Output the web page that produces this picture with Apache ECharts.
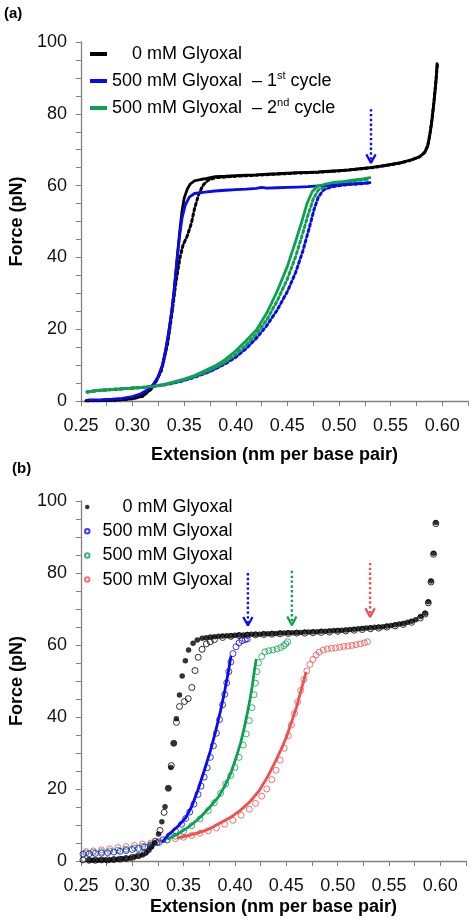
<!DOCTYPE html>
<html>
<head>
<meta charset="utf-8">
<script src="https://cdn.jsdelivr.net/npm/echarts@6/dist/echarts.min.js"></script>
<style>html,body{margin:0;padding:0;background:#fff}#c{width:472px;height:923px}</style>
</head>
<body>
<div id="c"></div>
<script>
// ---------- Panel (a) data : [extension nm/bp, force pN] ----------
const aBlackStretch = [[0.255,0.1],[0.265,0.1],[0.275,0.2],[0.285,0.3],[0.295,0.5],[0.303,0.9],[0.310,1.6],[0.315,2.6],[0.320,4.2],[0.325,6.8],[0.329,10],[0.332,14],[0.335,19],[0.338,25],[0.340,30],[0.342,36],[0.344,42],[0.346,48],[0.348,53],[0.350,56.5],[0.353,59],[0.356,60.5],[0.360,61.3],[0.366,61.7],[0.372,62.0],[0.380,62.5],[0.390,62.6],[0.400,62.8],[0.410,62.9],[0.420,63.0],[0.430,63.2],[0.440,63.3],[0.450,63.5],[0.460,63.6],[0.470,63.7],[0.480,63.8],[0.490,64.0],[0.500,64.2],[0.510,64.4],[0.520,64.7],[0.530,65.0],[0.540,65.4],[0.550,65.9],[0.560,66.4],[0.570,67.2],[0.578,68.0],[0.583,69.2],[0.586,71],[0.588,74],[0.590,78],[0.592,83],[0.594,89],[0.595,94]];
const aBlackRelax = [[0.255,0.0],[0.270,0.1],[0.285,0.2],[0.300,0.6],[0.310,1.3],[0.320,3.8],[0.328,8.5],[0.334,16],[0.338,24],[0.342,33],[0.346,40],[0.349,43.5],[0.353,46],[0.357,49.5],[0.360,53.5],[0.364,57.5],[0.368,60.0],[0.373,61.5],[0.380,62.2],[0.390,62.4],[0.400,62.6],[0.420,62.9],[0.440,63.2],[0.460,63.5],[0.480,63.7],[0.500,64.1],[0.520,64.6],[0.540,65.3],[0.560,66.3],[0.570,67.1],[0.578,68.0],[0.583,69.3],[0.586,71.2],[0.588,74.2],[0.590,78.3],[0.592,83.5],[0.594,89.5],[0.5955,94]];
const aBlueStretch = [[0.257,0.3],[0.270,0.4],[0.280,0.5],[0.290,0.7],[0.300,1.2],[0.308,2.0],[0.315,3.2],[0.320,4.6],[0.325,6.8],[0.329,10],[0.332,14],[0.335,19],[0.338,25],[0.340,30],[0.342,36],[0.344,42],[0.346,47],[0.348,51],[0.351,54.5],[0.355,56.8],[0.360,57.8],[0.370,58.2],[0.380,58.5],[0.390,58.7],[0.400,58.9],[0.410,59.0],[0.420,59.2],[0.425,59.5],[0.430,59.3],[0.440,59.4],[0.450,59.5],[0.460,59.6],[0.470,59.7],[0.480,59.9],[0.490,60.1],[0.500,60.2],[0.510,60.4],[0.520,60.6],[0.530,60.8]];
const aBlueRelax = [[0.256,2.5],[0.270,3.0],[0.285,3.3],[0.300,3.6],[0.315,3.9],[0.330,4.4],[0.345,5.3],[0.360,6.6],[0.375,8.2],[0.390,10.4],[0.400,12.2],[0.410,14.6],[0.420,17.5],[0.430,21.0],[0.440,25.3],[0.450,30.5],[0.458,35.8],[0.465,41.8],[0.471,48.0],[0.476,53.5],[0.480,56.8],[0.485,58.8],[0.492,59.6],[0.500,60.0],[0.510,60.3],[0.520,60.5],[0.530,60.8]];
const aGreenStretch = [[0.256,2.5],[0.262,2.8],[0.270,3.0],[0.280,3.2],[0.290,3.4],[0.300,3.6],[0.310,3.8],[0.320,4.1],[0.330,4.6],[0.340,5.3],[0.350,6.1],[0.360,7.1],[0.370,8.4],[0.380,9.8],[0.390,11.6],[0.400,14.0],[0.410,16.8],[0.420,19.8],[0.430,24.5],[0.440,30.5],[0.450,37.5],[0.458,44.5],[0.464,50],[0.469,55],[0.474,58.3],[0.479,59.8],[0.487,60.4],[0.495,60.9],[0.505,61.2],[0.515,61.6],[0.523,61.9],[0.530,62.2]];
const aGreenRelax = [[0.256,2.6],[0.270,3.0],[0.285,3.3],[0.300,3.6],[0.315,3.9],[0.330,4.5],[0.345,5.5],[0.360,6.8],[0.375,8.6],[0.390,10.9],[0.400,13.0],[0.410,15.6],[0.420,18.6],[0.430,22.6],[0.440,27.8],[0.450,34.0],[0.458,40.2],[0.465,46.8],[0.470,51.8],[0.475,56.2],[0.480,58.8],[0.488,59.9],[0.496,60.5],[0.505,60.9],[0.515,61.3],[0.523,61.6],[0.530,61.9]];
const aArrow = {x: 0.531, top: 81.3, tip: 66.3};

// ---------- Panel (b) data ----------
const b0Filled = [[0.258,0.2],[0.262,0.2],[0.266,0.2],[0.270,0.3],[0.274,0.3],[0.278,0.3],[0.282,0.4],[0.286,0.5],[0.290,0.6],[0.294,0.7],[0.298,0.8],[0.302,1.1],[0.306,1.4],[0.310,1.7],[0.3135,2.3],[0.3162,3.0],[0.3190,4.0],[0.3219,5.1],[0.3256,7.5],[0.3288,10.9],[0.3319,15.1],[0.3351,20.2],[0.3376,26.0],[0.3404,32.7],[0.3429,39.5],[0.3460,46.1],[0.3486,51.4],[0.3517,55.6],[0.3548,58.6],[0.3592,60.5],[0.3633,61.4],[0.3680,61.9],[0.372,62.0],[0.376,62.2],[0.380,62.3],[0.384,62.4],[0.388,62.5],[0.392,62.6],[0.396,62.6],[0.400,62.7],[0.404,62.8],[0.408,62.8],[0.412,62.9],[0.416,63.0],[0.420,63.0],[0.424,63.0],[0.428,63.1],[0.432,63.1],[0.436,63.2],[0.440,63.2],[0.444,63.3],[0.448,63.3],[0.452,63.4],[0.456,63.4],[0.460,63.5],[0.464,63.5],[0.468,63.6],[0.472,63.6],[0.476,63.7],[0.480,63.7],[0.484,63.8],[0.488,63.8],[0.492,63.9],[0.496,64.0],[0.500,64.0],[0.504,64.1],[0.508,64.2],[0.512,64.3],[0.516,64.4],[0.520,64.5],[0.524,64.6],[0.528,64.7],[0.532,64.8],[0.536,64.9],[0.540,65.0],[0.544,65.1],[0.548,65.3],[0.552,65.4],[0.556,65.6],[0.560,65.8],[0.564,66.0],[0.568,66.3],[0.572,66.6],[0.576,67.0],[0.5808,67.9],[0.5852,68.8],[0.5883,72.0],[0.5909,77.8],[0.5934,85.5],[0.5956,94.0]];
const b0Open = [[0.252,0.3],[0.258,0.2],[0.264,0.2],[0.270,0.3],[0.276,0.3],[0.282,0.4],[0.288,0.5],[0.294,0.7],[0.300,1.0],[0.306,1.5],[0.312,2.3],[0.318,4.0],[0.3225,5.5],[0.327,8.5],[0.331,13.5],[0.3351,20.2],[0.338,26.5],[0.3404,32.7],[0.343,38.5],[0.346,42.9],[0.3508,44.3],[0.3545,45.1],[0.358,48.2],[0.3611,52.9],[0.3642,56.6],[0.368,58.8],[0.3721,60.3],[0.3759,60.9],[0.380,61.5],[0.388,62.1],[0.396,62.4],[0.404,62.6],[0.412,62.7],[0.420,62.8],[0.428,62.9],[0.436,63.0],[0.444,63.1],[0.452,63.2],[0.460,63.3],[0.468,63.3],[0.476,63.4],[0.484,63.5],[0.492,63.6],[0.500,63.8],[0.508,63.9],[0.516,64.1],[0.524,64.3],[0.532,64.5],[0.540,64.7],[0.548,65.0],[0.556,65.3],[0.564,65.7],[0.572,66.3],[0.5805,67.5],[0.5852,68.6],[0.5883,71.7],[0.5909,77.5],[0.5934,85.2],[0.5956,93.7]];
const bBlueOpen = [[0.252,1.9],[0.258,2.0],[0.264,2.1],[0.270,2.2],[0.276,2.3],[0.282,2.5],[0.288,2.7],[0.294,2.9],[0.300,3.2],[0.306,3.5],[0.312,3.9],[0.318,4.4],[0.324,5.1],[0.330,5.9],[0.336,7.0],[0.342,8.4],[0.348,10.2],[0.352,11.8],[0.356,13.6],[0.360,15.8],[0.364,18.5],[0.367,20.8],[0.370,23.3],[0.373,25.9],[0.376,28.8],[0.379,32.0],[0.382,35.5],[0.385,39.3],[0.388,43.4],[0.390,46.3],[0.392,49.5],[0.394,52.6],[0.396,55.3],[0.398,57.6],[0.401,59.5],[0.404,60.6],[0.407,61.2],[0.410,61.5],[0.412,61.7]];
const bBlueFit = [[0.330,5.6],[0.335,7.2],[0.345,9.8],[0.352,12.0],[0.358,15.2],[0.364,19.8],[0.370,25.0],[0.376,30.5],[0.381,35.8],[0.386,41.8],[0.390,47.2],[0.3935,52.4],[0.3960,56.7]];
const bGreenOpen = [[0.255,2.2],[0.262,2.4],[0.270,2.6],[0.278,2.8],[0.286,3.0],[0.294,3.3],[0.302,3.6],[0.310,4.0],[0.318,4.5],[0.326,5.1],[0.334,5.9],[0.342,6.9],[0.350,8.2],[0.358,9.8],[0.366,11.7],[0.374,14.0],[0.380,16.2],[0.386,18.8],[0.391,21.4],[0.396,23.8],[0.400,26.0],[0.404,28.8],[0.408,32.2],[0.411,35.3],[0.414,39.0],[0.4165,42.6],[0.4185,46.2],[0.4200,49.4],[0.4214,52.6],[0.423,55.1],[0.426,56.8],[0.4292,58.1],[0.433,58.4],[0.437,58.6],[0.441,58.9],[0.4445,59.3],[0.4475,59.8],[0.4495,60.3],[0.4512,60.9]];
const bGreenFit = [[0.335,6.2],[0.345,7.6],[0.355,9.5],[0.365,11.8],[0.375,14.8],[0.384,17.8],[0.390,20.8],[0.396,24.4],[0.401,28.6],[0.4055,32.8],[0.409,36.9],[0.412,41.0],[0.4145,44.7],[0.4167,48.3],[0.4185,52.0],[0.4205,55.8]];
const bRedOpen = [[0.255,2.6],[0.262,2.8],[0.270,3.1],[0.278,3.4],[0.286,3.7],[0.294,4.0],[0.302,4.3],[0.310,4.7],[0.318,5.0],[0.326,5.4],[0.334,5.8],[0.342,6.2],[0.350,6.6],[0.358,7.1],[0.366,7.7],[0.374,8.4],[0.382,9.2],[0.390,10.2],[0.398,11.3],[0.406,12.7],[0.414,14.4],[0.420,16.0],[0.426,18.0],[0.431,20.0],[0.436,22.6],[0.440,25.2],[0.444,28.0],[0.448,31.3],[0.452,34.8],[0.455,37.8],[0.458,41.0],[0.461,44.2],[0.464,47.4],[0.467,50.4],[0.470,52.8],[0.473,54.6],[0.476,56.0],[0.479,57.2],[0.482,58.0],[0.486,58.6],[0.490,58.9],[0.494,59.1],[0.498,59.2],[0.502,59.4],[0.506,59.6],[0.510,59.7],[0.514,59.9],[0.518,60.1],[0.522,60.3],[0.526,60.6],[0.529,60.9]];
const bRedFit = [[0.345,6.4],[0.355,7.1],[0.365,7.9],[0.375,8.9],[0.385,10.5],[0.395,12.0],[0.405,14.0],[0.415,16.6],[0.424,19.7],[0.432,23.5],[0.440,28.0],[0.4465,32.0],[0.4506,34.8],[0.455,38.5],[0.460,42.8],[0.4645,47.5],[0.469,52.2]];
const bArrows = [
  {x: 0.4126, top: 80.0, tip: 65.4, color: 'blue'},
  {x: 0.4554, top: 80.6, tip: 65.5, color: 'green'},
  {x: 0.5316, top: 82.8, tip: 67.8, color: 'red'}
];

// ---------- axis ticks / labels ----------
const xMin = 0.25, xMax = 0.625, xStep = 0.025;
const xLabelEvery = 0.05;
const yMin = 0, yMax = 100, yStep = 5;
const yLabelEvery = 20;

const legendA = ['0 mM Glyoxal', '500 mM Glyoxal – 1st cycle', '500 mM Glyoxal – 2nd cycle'];
const legendB = ['0 mM Glyoxal', '500 mM Glyoxal', '500 mM Glyoxal', '500 mM Glyoxal'];

const COL = {black: '#000000', blue: '#0a0aee', green: '#0da14f', red: '#f04f4f'};
const FONT = "'Liberation Sans', Arial, Helvetica, sans-serif";
const AXC = '#808080';

function xAxis(idx, nameGap) {
  return {
    type: 'value', gridIndex: idx, min: xMin, max: xMax, interval: xStep,
    name: 'Extension (nm per base pair)', nameLocation: 'middle', nameGap: nameGap,
    nameTextStyle: {fontFamily: FONT, fontWeight: 'bold', fontSize: 18, color: '#000'},
    axisLine: {lineStyle: {color: AXC, width: 1.3}},
    axisTick: {length: 5, lineStyle: {color: AXC, width: 1}},
    splitLine: {show: false},
    axisLabel: {
      fontFamily: FONT, fontSize: 18, color: '#111', margin: 16, showMaxLabel: true,
      formatter: v => (Math.round(v * 1000) % Math.round(xLabelEvery * 1000) === 0) ? v.toFixed(2) : ''
    }
  };
}
function yAxis(idx, nameGap) {
  return {
    type: 'value', gridIndex: idx, min: yMin, max: yMax, interval: yStep,
    name: 'Force (pN)', nameLocation: 'middle', nameGap: nameGap,
    nameTextStyle: {fontFamily: FONT, fontWeight: 'bold', fontSize: 18, color: '#000'},
    axisLine: {show: true, lineStyle: {color: AXC, width: 1.3}},
    axisTick: {length: 5, lineStyle: {color: AXC, width: 1}},
    splitLine: {show: false},
    axisLabel: {
      fontFamily: FONT, fontSize: 18, color: '#111', margin: 14,
      formatter: v => (Math.round(v) % yLabelEvery === 0) ? String(Math.round(v)) : ''
    }
  };
}

function lineSeries(name, data, color, dashed, ax, z) {
  return {
    name: name, type: 'line', data: data, xAxisIndex: ax, yAxisIndex: ax,
    showSymbol: false, symbol: 'none', animation: false, z: z || 2,
    lineStyle: {color: color, width: dashed ? 3 : 2.8, type: dashed ? [2.5, 3] : 'solid', cap: 'round'},
    itemStyle: {color: color}
  };
}
function arrowSeries(a, color, ax) {
  const hw = 0.0045, hh = 2.4;
  return [
    {type: 'line', xAxisIndex: ax, yAxisIndex: ax, data: [[a.x, a.top], [a.x, a.tip + 0.8]], symbol: 'none', animation: false,
     lineStyle: {color: color, width: 2.4, type: [2.4, 2.4]}, z: 5, silent: true},
    {type: 'line', xAxisIndex: ax, yAxisIndex: ax, data: [[a.x - hw, a.tip + hh], [a.x, a.tip], [a.x + hw, a.tip + hh]], symbol: 'none', animation: false,
     lineStyle: {color: color, width: 2.2}, z: 5, silent: true}
  ];
}
function openScatter(name, data, color, ax, z) {
  return {name: name, type: 'scatter', data: data, xAxisIndex: ax, yAxisIndex: ax, symbol: 'circle', symbolSize: 6,
    animation: false, z: z || 2, itemStyle: {color: 'rgba(255,255,255,0)', borderColor: color, borderWidth: 1}};
}

const chart = echarts.init(document.getElementById('c'), null, {renderer: 'canvas'});

const bNames = ['b0', 'bBlue', 'bGreen', 'bRed'];
const bNameText = {b0: '    ' + legendB[0], bBlue: legendB[1], bGreen: legendB[2], bRed: legendB[3]};

const series = [
  lineSeries(legendA[0], aBlackStretch, COL.black, false, 0, 2),
  lineSeries('a0relax', aBlackRelax, COL.black, true, 0, 3),
  lineSeries(legendA[1], aBlueStretch, COL.blue, false, 0, 4),
  lineSeries('a1relax', aBlueRelax, COL.blue, true, 0, 3),
  lineSeries('a2relax', aGreenRelax, COL.green, true, 0, 3),
  lineSeries(legendA[2], aGreenStretch, COL.green, false, 0, 4),
  ...arrowSeries(aArrow, COL.blue, 0),
  openScatter('b0open', b0Open, COL.black, 1, 2),
  {name: 'b0', type: 'scatter', data: b0Filled, xAxisIndex: 1, yAxisIndex: 1, symbol: 'circle', symbolSize: 5.5,
    animation: false, z: 3, itemStyle: {color: COL.black}},
  openScatter('bRed', bRedOpen, COL.red, 1, 2),
  openScatter('bGreen', bGreenOpen, COL.green, 1, 2),
  openScatter('bBlue', bBlueOpen, COL.blue, 1, 2),
  lineSeries('bRedFit', bRedFit, COL.red, false, 1, 4),
  lineSeries('bGreenFit', bGreenFit, COL.green, false, 1, 4),
  lineSeries('bBlueFit', bBlueFit, COL.blue, false, 1, 4)
];
bArrows.forEach(a => series.push(...arrowSeries(a, COL[a.color], 1)));

function legendAFormat(name) {
  if (name === legendA[0]) return '{t|    0 mM Glyoxal}';
  const m = name.match(/^(.*) – (\d)(st|nd) cycle$/);
  return '{t|' + m[1] + '  – ' + m[2] + '}{s|' + m[3] + '}{t| cycle}';
}

chart.setOption({
  backgroundColor: '#fff',
  animation: false,
  grid: [
    {left: 70, right: 4, top: 42, bottom: 522, containLabel: false},
    {left: 68, right: 6, top: 501, bottom: 62, containLabel: false}
  ],
  xAxis: [xAxis(0, 45), xAxis(1, 37)],
  yAxis: [yAxis(0, 37), yAxis(1, 35)],
  legend: [
    {orient: 'vertical', left: 90, top: 43, padding: 0, itemWidth: 17, itemHeight: 4, itemGap: 5, icon: 'rect',
     data: legendA, selectedMode: false, formatter: legendAFormat,
     textStyle: {fontFamily: FONT, fontSize: 18, color: '#000', lineHeight: 22,
       rich: {t: {fontFamily: FONT, fontSize: 18, color: '#000', lineHeight: 22},
              s: {fontFamily: FONT, fontSize: 11, color: '#000', verticalAlign: 'top', lineHeight: 14}}}},
    {orient: 'vertical', left: 84, top: 497, padding: 0, itemWidth: 4.5, itemHeight: 4.5, itemGap: 4.2,
     data: bNames, selectedMode: false, formatter: n => bNameText[n],
     textStyle: {fontFamily: FONT, fontSize: 18, color: '#000', lineHeight: 20, padding: [0, 0, 0, 8]}}
  ],
  graphic: [
    {type: 'text', left: 4, top: 6, style: {text: '(a)', fontFamily: FONT, fontWeight: 'bold', fontSize: 15, fill: '#000'}},
    {type: 'text', left: 12, top: 461, style: {text: '(b)', fontFamily: FONT, fontWeight: 'bold', fontSize: 15, fill: '#000'}}
  ],
  series: series
});
</script>
</body>
</html>
